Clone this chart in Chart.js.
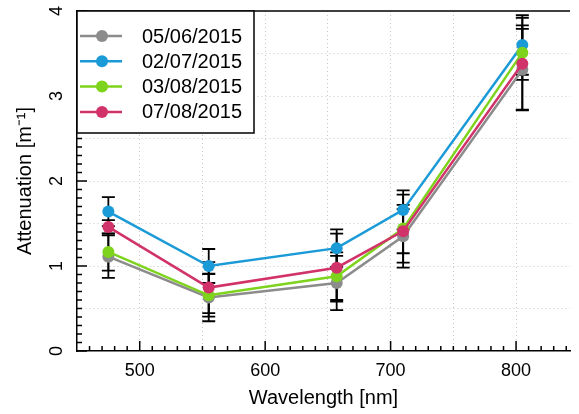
<!DOCTYPE html>
<html>
<head>
<meta charset="utf-8">
<title>Attenuation vs wavelength</title>
<script src="https://cdn.jsdelivr.net/npm/chart.js"></script>
<style>
  html, body { margin: 0; padding: 0; background: #fff; }
</style>
</head>
<body>
<canvas id="chart" width="579" height="414"></canvas>
<script>
// wavelengths of the measured bands (nm)
const wavelengths = [475, 555, 657, 710, 805];
const dates = ['05/06/2015', '02/07/2015', '03/08/2015', '07/08/2015'];

// attenuation (m^-1) and its standard deviation, one pair per date
const att0506 = [1.11, 0.63, 0.80, 1.35, 3.31];
const err0506 = [0.25, 0.28, 0.32, 0.37, 0.48];
const att0207 = [1.64, 1.00, 1.21, 1.66, 3.60];
const err0207 = [0.17, 0.20, 0.22, 0.23, 0.35];
const att0308 = [1.165, 0.655, 0.88, 1.44, 3.51];
const err0308 = [0.22, 0.25, 0.28, 0.40, 0.32];
const att0708 = [1.46, 0.746, 0.98, 1.41, 3.38];
const err0708 = [0.08, 0.30, 0.40, 0.26, 0.54];

const FONT = '"Liberation Sans", Arial, Helvetica, sans-serif';

function makeSet(label, values, errors, color, order) {
  return {
    label: label,
    data: wavelengths.map((w, i) => ({ x: w, y: values[i] })),
    errors: errors,
    borderColor: color,
    backgroundColor: color,
    borderWidth: 2.5,
    pointRadius: 6,
    pointBorderWidth: 0,
    pointHoverRadius: 6,
    tension: 0,
    order: order
  };
}

const datasets = [
  makeSet(dates[0], att0506, err0506, '#8c8c8c', 4),
  makeSet(dates[1], att0207, err0207, '#1a9ad6', 3),
  makeSet(dates[2], att0308, err0308, '#7ed31c', 2),
  makeSet(dates[3], att0708, err0708, '#d2326a', 1)
];

// error bars, inward ticks, rotated y labels, top frame and boxed legend
const framePlugin = {
  id: 'frame',
  beforeDatasetsDraw(chart) {
    const ctx = chart.ctx, xs = chart.scales.x, ys = chart.scales.y;
    ctx.save();
    ctx.strokeStyle = '#000';
    ctx.lineWidth = 1.8;
    chart.data.datasets.forEach(ds => {
      ds.data.forEach((p, i) => {
        const e = ds.errors[i];
        const px = xs.getPixelForValue(p.x);
        const top = ys.getPixelForValue(p.y + e);
        const bot = ys.getPixelForValue(p.y - e);
        ctx.beginPath();
        ctx.moveTo(px, top); ctx.lineTo(px, bot);
        ctx.moveTo(px - 6.5, top); ctx.lineTo(px + 6.5, top);
        ctx.moveTo(px - 6.5, bot); ctx.lineTo(px + 6.5, bot);
        ctx.stroke();
      });
    });
    ctx.restore();
  },
  afterDraw(chart) {
    const ctx = chart.ctx, area = chart.chartArea;
    const xs = chart.scales.x, ys = chart.scales.y;
    ctx.save();
    ctx.strokeStyle = '#000';
    ctx.lineWidth = 1.5;

    // top frame line
    ctx.beginPath();
    ctx.moveTo(area.left, area.top);
    ctx.lineTo(area.right, area.top);
    ctx.stroke();

    // inward tick marks
    ctx.beginPath();
    for (let k = 0; k <= 40; k++) {
      const py = ys.getPixelForValue(k / 10);
      const len = k % 10 === 0 ? 10 : 5;
      ctx.moveTo(area.left, py); ctx.lineTo(area.left + len, py);
    }
    for (let w = 460; w <= xs.max; w += 10) {
      const px = xs.getPixelForValue(w);
      const len = w % 100 === 0 ? 10 : 5;
      ctx.moveTo(px, area.bottom); ctx.lineTo(px, area.bottom - len);
    }
    ctx.stroke();

    // y tick labels, rotated
    ctx.fillStyle = '#000';
    ctx.font = '18px ' + FONT;
    ctx.textAlign = 'center';
    ctx.textBaseline = 'middle';
    for (let v = 0; v <= 4; v++) {
      ctx.save();
      ctx.translate(57, ys.getPixelForValue(v));
      ctx.rotate(-Math.PI / 2);
      ctx.fillText(String(v), 0, 0);
      ctx.restore();
    }

    // legend box
    const bx = area.left, by = area.top, bw = 177, bh = 122;
    ctx.fillStyle = '#fff';
    ctx.fillRect(bx, by, bw, bh);
    ctx.strokeRect(bx, by, bw, bh);
    ctx.font = '20px ' + FONT;
    ctx.textAlign = 'left';
    chart.data.datasets.forEach((ds, i) => {
      const ly = by + 25 + i * 25.3;
      ctx.strokeStyle = ds.borderColor;
      ctx.lineWidth = 2.5;
      ctx.beginPath();
      ctx.moveTo(bx + 3, ly); ctx.lineTo(bx + 45, ly);
      ctx.stroke();
      ctx.fillStyle = ds.backgroundColor;
      ctx.beginPath();
      ctx.arc(bx + 25, ly, 6, 0, Math.PI * 2);
      ctx.fill();
      ctx.fillStyle = '#000';
      ctx.fillText(ds.label, bx + 65, ly + 1);
    });
    ctx.restore();
  }
};

const gridGray = '#c6c6c6';

new Chart(document.getElementById('chart'), {
  type: 'line',
  data: { datasets: datasets },
  options: {
    responsive: false,
    animation: false,
    layout: { padding: { top: 11, right: 0, left: 0, bottom: 0 } },
    plugins: { legend: { display: false }, tooltip: { enabled: false } },
    scales: {
      x: {
        type: 'linear',
        min: 450,
        max: 843,
        afterFit(scale) { scale.height = 63; },
        ticks: {
          stepSize: 50,
          autoSkip: false,
          maxRotation: 0,
          padding: 9,
          color: '#000',
          font: { family: FONT, size: 18 },
          callback: v => (v % 100 === 0 ? String(v) : '')
        },
        grid: {
          drawTicks: false,
          lineWidth: 1,
          color: c => (c.tick && c.tick.value % 50 === 0 && c.tick.value > 450 ? gridGray : 'rgba(0,0,0,0)')
        },
        border: { display: true, color: '#000', width: 1.5, dash: [1, 3] },
        title: {
          display: true,
          text: 'Wavelength [nm]',
          color: '#000',
          font: { family: FONT, size: 20 },
          padding: { top: 0, bottom: 4 }
        }
      },
      y: {
        min: 0,
        max: 4,
        afterFit(scale) { scale.width = 77; },
        ticks: { display: false, stepSize: 0.5 },
        grid: {
          drawTicks: false,
          lineWidth: 1,
          color: c => (c.tick && c.tick.value > 0 && c.tick.value < 4 ? gridGray : 'rgba(0,0,0,0)')
        },
        border: { display: true, color: '#000', width: 1.5, dash: [1, 3] },
        title: {
          display: true,
          text: 'Attenuation [m⁻¹]',
          color: '#000',
          font: { family: FONT, size: 20 },
          padding: { top: 13, bottom: 0 }
        }
      }
    }
  },
  plugins: [framePlugin]
});
</script>
</body>
</html>
